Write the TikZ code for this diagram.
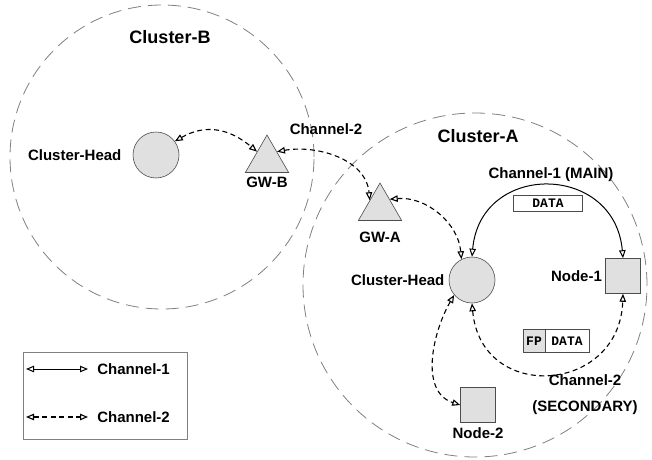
\documentclass[tikz,border=0pt]{standalone}
\usepackage{fontspec}
\setmainfont{Liberation Sans}
\setmonofont{Liberation Mono}
\usetikzlibrary{positioning,shapes.geometric,arrows.meta}
\begin{document}
\begin{tikzpicture}[<->,>={Triangle[open,length=8pt,width=6.5pt]}, x=1pt, y=1pt, semithick, every node/.style={inner sep=1pt}]
    \tikzset{hub/.style={draw=black!70,fill=black!12,circle,minimum size=46pt,inner sep=0pt},
      gate/.style={draw=black!70,fill=black!12,regular polygon,regular polygon sides=3,minimum size=50pt,inner sep=0pt},
      leaf/.style={draw=black!70,fill=black!12,minimum size=35pt,inner sep=0pt},
      zone/.style={draw=black!50,circle,line width=0.8pt,dash pattern=on 13pt off 7pt},
      lbl/.style={font=\bfseries\fontsize{15}{18}\selectfont},
      big/.style={font=\bfseries\fontsize{18}{22}\selectfont},
      pkt/.style={draw=black!70,fill=white,font=\ttfamily\bfseries\fontsize{13}{14}\selectfont,minimum height=16pt,inner sep=0pt,outer sep=0pt},
      main/.style={line width=1pt},
      second/.style={line width=1.1pt,dash pattern=on 5pt off 3.5pt}};
    \useasboundingbox (0,0) rectangle (652,459);
    % coverage areas
    \node[zone, minimum size=304pt] (sZB) at (162,302) {};
    \node[zone, minimum size=344pt] (sZA) at (475,174) {};
    \node[big] (sTB) at (170,422) {Cluster-B};
    \node[big] (sTA) at (478,323) {Cluster-A};
    % nodes
    \node[hub] (sHB) at (156,304) {};
    \node[gate] (sGB) at (267,299) {};
    \node[gate] (sGA) at (380,251) {};
    \node[hub] (sHA) at (472,179) {};
    \node[leaf] (sN1) at (623,183) {};
    \node[leaf] (sN2) at (478,54) {};
    \node[lbl, left=10pt of sHB] (sLHB) {Cluster-Head};
    \node[lbl, below=3pt of sGB] (sLGB) {GW-B};
    \node[lbl, below=10pt of sGA] (sLGA) {GW-A};
    \node[lbl, left=3pt of sHA] (sLHA) {Cluster-Head};
    \node[lbl, left=2pt of sN1] (sLN1) {Node-1};
    \node[lbl, below=4pt of sN2] (sLN2) {Node-2};
    \node[lbl] (sC2) at (326,330) {Channel-2};
    \node[lbl] (sC1) at (551,284) {Channel-1 (MAIN)};
    \node[align=center, font=\bfseries\fontsize{15}{26}\selectfont] (sC2s) at (585,64) {Channel-2\\(SECONDARY)};
    % packets
    \node[pkt, minimum width=69pt] (sD1) at (548,256) {DATA};
    \node[pkt, fill=black!12, minimum width=22pt, minimum height=23pt] (sFP) at (534,118) {FP};
    \node[pkt, minimum width=44pt, minimum height=23pt, right=0pt of sFP] (sD2) {DATA};
    {
      \path
        (sHB.36) edge[second, out=30, in=140, looseness=1.1] (sGB.140)
        (sGB.40) edge[second, out=10, in=95] (sGA.143)
        (sGA.42) edge[second, out=5, in=95] (sHA.117)
        (sHA.north) edge[main, out=85, in=95, looseness=1.62] (sN1.north)
        (sHA.south) edge[second, out=275, in=268, looseness=1.7] (sN1.south)
        (sHA.220) edge[second, out=240, in=162] (sN2.west)
        ;
    }
    % legend
    \node[draw=black!50, minimum width=164pt, minimum height=87pt] (sKey) at (105,63) {};
    \node[lbl, anchor=west] (sK1) at (96,90) {Channel-1};
    \node[lbl, anchor=west] (sK2) at (96,42) {Channel-2};
    \coordinate (sK1a) at (26,90);
    \coordinate (sK1b) at (88,90);
    \coordinate (sK2a) at (26,42);
    \coordinate (sK2b) at (88,42);
    \path (sK1a) edge[main] (sK1b)
      (sK2a) edge[second] (sK2b);
\end{tikzpicture}
\end{document}
